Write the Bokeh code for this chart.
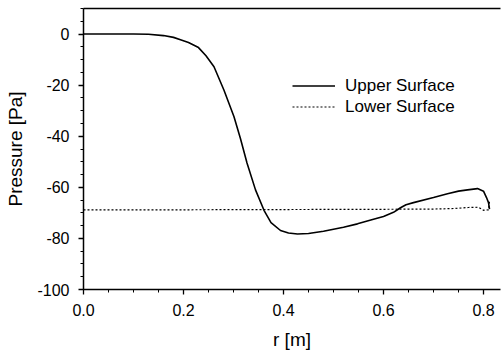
from bokeh.plotting import figure
from bokeh.models import (LinearAxis, FixedTicker, SingleIntervalTicker, PrintfTickFormatter,
                          Range1d, Legend, LegendItem)
from bokeh.embed import file_html
from bokeh.resources import INLINE

# Data
upper_r = [0.0, 0.05, 0.10, 0.13, 0.16, 0.18, 0.194, 0.21, 0.23, 0.245, 0.261, 0.281, 0.301,
           0.314, 0.327, 0.344, 0.361, 0.375, 0.394, 0.41, 0.428, 0.45, 0.48, 0.52, 0.548, 0.58,
           0.60, 0.62, 0.634, 0.645, 0.66, 0.70, 0.728, 0.75, 0.768, 0.788, 0.80, 0.806, 0.81, 0.812]
upper_p = [0.0, 0.0, 0.0, -0.1, -0.6, -1.3, -2.2, -3.3, -5.3, -8.5, -12.8, -22.0, -32.4,
           -41.0, -50.5, -61.0, -69.0, -73.8, -76.9, -77.9, -78.3, -78.1, -77.2, -75.6, -74.3, -72.5,
           -71.4, -69.8, -68.0, -66.8, -66.0, -64.0, -62.5, -61.5, -61.0, -60.5, -61.5, -64.0, -66.0, -68.5]
lower_r = [0.0, 0.2, 0.4, 0.6, 0.70, 0.74, 0.77, 0.79, 0.80, 0.81, 0.812]
lower_p = [-68.8, -68.8, -68.7, -68.6, -68.5, -68.3, -67.9, -67.8, -69.0, -68.8, -65.5]

x_start, x_end = 0.0, 0.834
y_start, y_end = -100.0, 10.0

FONT = "Liberation Sans"

p = figure(frame_width=417, frame_height=281, output_backend="svg", toolbar_location=None,
           x_range=Range1d(x_start, x_end), y_range=Range1d(y_start, y_end),
           min_border_left=83, min_border_bottom=55, min_border_top=8, min_border_right=2,
           x_axis_label="r [m]", y_axis_label="Pressure [Pa]")
p.outline_line_color = None
p.xgrid.visible = False
p.ygrid.visible = False
p.background_fill_color = "white"
p.border_fill_color = "white"

l1 = p.line(upper_r, upper_p, line_color="black", line_width=1.6)
l2 = p.line(lower_r, lower_p, line_color="black", line_width=1.2, line_dash="2 2")

for ax, tick, fmt in ((p.xaxis[0], SingleIntervalTicker(interval=0.2, num_minor_ticks=4), "%.1f"),
                      (p.yaxis[0], SingleIntervalTicker(interval=20, num_minor_ticks=4), "%d")):
    ax.ticker = tick
    ax.formatter = PrintfTickFormatter(format=fmt)
    ax.axis_line_width = 1.5
    ax.axis_line_color = "black"
    ax.major_tick_in = 0
    ax.major_tick_out = 5
    ax.minor_tick_in = 0
    ax.minor_tick_out = 3
    ax.major_tick_line_width = 1.3
    ax.minor_tick_line_width = 1.0
    ax.major_label_text_font = FONT
    ax.major_label_text_font_size = "16px"
    ax.major_label_text_color = "black"
    ax.major_label_standoff = 9
    ax.axis_label_text_font = FONT
    ax.axis_label_text_font_size = "19px"
    ax.axis_label_text_font_style = "normal"
    ax.axis_label_text_color = "black"
    ax.axis_label_standoff = 8
p.xaxis[0].axis_label_standoff = 10

top = LinearAxis(ticker=FixedTicker(ticks=[], minor_ticks=[]), axis_line_width=1.5,
                 major_label_text_font_size="0px", major_tick_out=0, minor_tick_out=0)
p.add_layout(top, "above")

legend = Legend(items=[LegendItem(label="Upper Surface", renderers=[l1]),
                       LegendItem(label="Lower Surface", renderers=[l2])],
                location=(209, 172), border_line_color=None, background_fill_alpha=0,
                padding=0, margin=0, spacing=0, glyph_width=43, glyph_height=21,
                label_height=21, label_standoff=10, label_text_font=FONT,
                label_text_font_size="17px", label_text_color="black")
p.add_layout(legend, "center")

open("out.html", "w").write(file_html(p, INLINE))
